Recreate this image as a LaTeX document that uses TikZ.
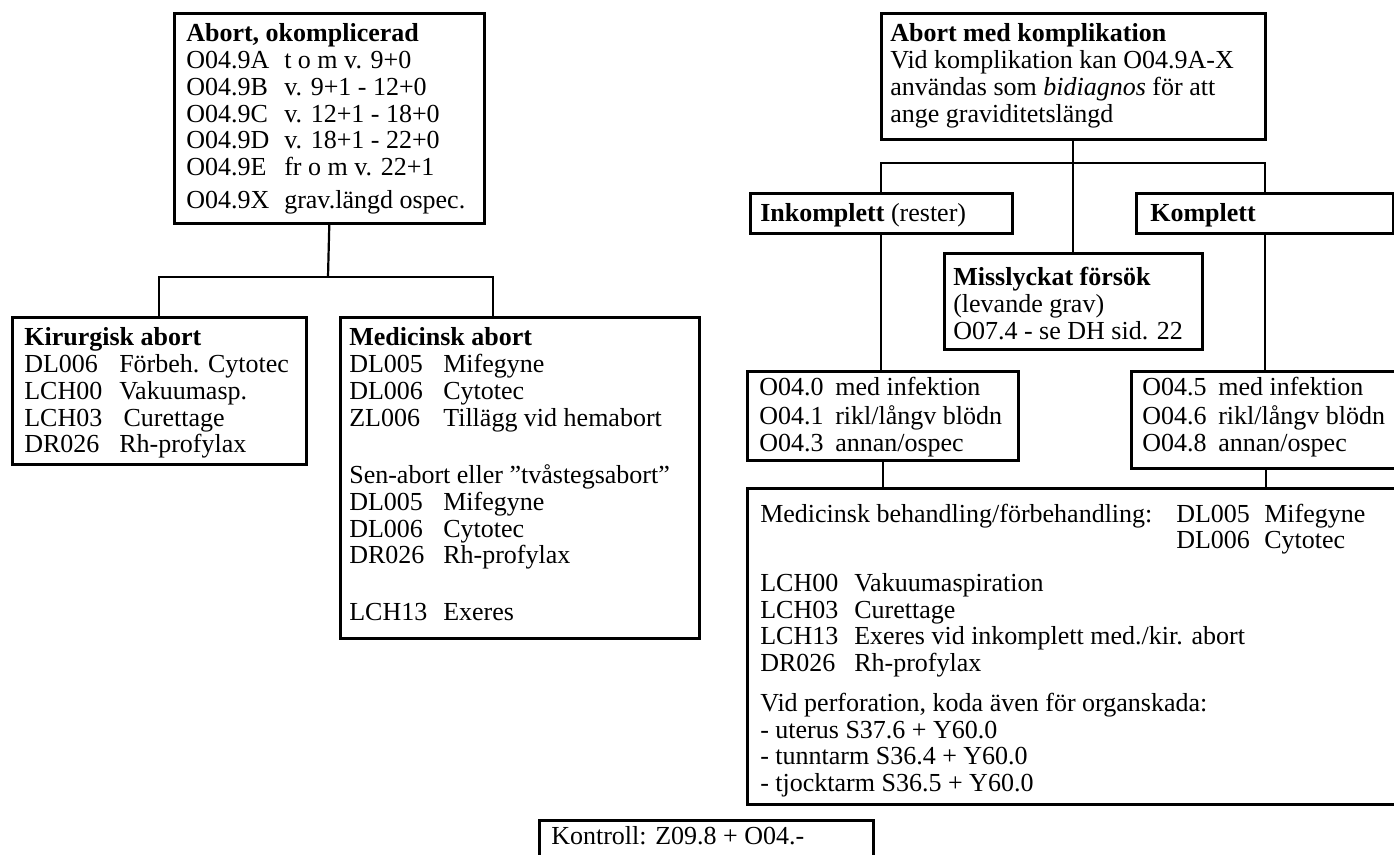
\documentclass[tikz,border=0pt]{standalone}
\usepackage{fontspec}
\setmainfont{Liberation Serif}

\newcommand{\kod}[2]{\makebox[#1][l]{#2}}
\newcommand{\boxbody}[3]{\begin{minipage}[t][#2][t]{#1}\raggedright #3\end{minipage}}

\begin{document}
\begin{tikzpicture}[x=0.5pt, y=-0.5pt,
  box/.style={draw, line width=1.3pt, anchor=north west, inner ysep=0pt, font=\fontsize{13}{13.35}\selectfont},
  link/.style={line width=1.1pt}]
\useasboundingbox (0,0) rectangle (1394,855);

\node[box, inner xsep=6pt] (okompl) at (173,12) {\boxbody{143pt}{105pt}{\vspace*{5pt}\strut\textbf{Abort, okomplicerad}\\
\kod{49pt}{O04.9A}t o m v. 9+0\\
\kod{49pt}{O04.9B}v. 9+1 - 12+0\\
\kod{49pt}{O04.9C}v. 12+1 - 18+0\\
\kod{49pt}{O04.9D}v. 18+1 - 22+0\\
\kod{49pt}{O04.9E}fr o m v. 22+1\\[3pt]
\kod{49pt}{O04.9X}grav.längd ospec.}};

\node[box, inner xsep=6pt] (kir) at (11,316) {\boxbody{135pt}{73.5pt}{\vspace*{5pt}\strut\textbf{Kirurgisk abort}\\
\kod{47.5pt}{DL006}Förbeh. Cytotec\\
\kod{47.5pt}{LCH00}Vakuumasp.\\
\kod{47.5pt}{LCH03}\,Curettage\\
\kod{47.5pt}{DR026}Rh-profylax}};

\node[box, inner xsep=4.5pt] (med) at (339,316) {\boxbody{170.5pt}{160.5pt}{\vspace*{5pt}\strut\textbf{Medicinsk abort}\\
\kod{47pt}{DL005}Mifegyne\\
\kod{47pt}{DL006}Cytotec\\
\kod{47pt}{ZL006}Tillägg vid hemabort\\[15.5pt]
Sen-abort eller ”tvåstegsabort”\\
\kod{47pt}{DL005}Mifegyne\\
\kod{47pt}{DL006}Cytotec\\
\kod{47pt}{DR026}Rh-profylax\\[15pt]
\kod{47pt}{LCH13}Exeres}};

\node[box, inner xsep=4.5pt] (amk) at (880,12) {\boxbody{183pt}{63pt}{\vspace*{5pt}\strut\textbf{Abort med komplikation}\\
Vid komplikation kan O04.9A-X\\
användas som \textit{bidiagnos} för att\\
ange graviditetslängd}};

\node[box, inner xsep=5pt] (inkompl) at (749,192) {\boxbody{121pt}{20pt}{\vspace*{4.7pt}\strut\textbf{Inkomplett} (rester)}};
\node[box, inner xsep=7pt] (kompl) at (1135,192) {\boxbody{114.5pt}{20pt}{\vspace*{4.7pt}\strut\textbf{Komplett}}};

\node[box, inner xsep=4.5pt] (missl) at (943,252) {\boxbody{120pt}{48pt}{\vspace*{7pt}\strut\textbf{Misslyckat försök}\\
(levande grav)\\
O07.4 - se DH sid. 22}};

\node[box, inner xsep=6pt] (inf1) at (746,370) {\boxbody{123.5pt}{44.5pt}{\vspace*{3pt}\strut\kod{38pt}{O04.0}med infektion\\
\kod{38pt}{O04.1}rikl/långv blödn\\
\kod{38pt}{O04.3}annan/ospec}};

\node[box, inner xsep=5.5pt] (inf2) at (1130,370) {\boxbody{124pt}{48.5pt}{\vspace*{3pt}\strut\kod{38pt}{O04.5}med infektion\\
\kod{38pt}{O04.6}rikl/långv blödn\\
\kod{38pt}{O04.8}annan/ospec}};

\node[box, inner xsep=6.5pt] (beh) at (746,487) {\boxbody{314pt}{158pt}{\vspace*{7.6pt}\strut\makebox[208pt][l]{Medicinsk behandling/förbehandling:}\kod{44pt}{DL005}Mifegyne\\
\hspace*{208pt}\kod{44pt}{DL006}Cytotec\\[8pt]
\kod{47pt}{LCH00}Vakuumaspiration\\
\kod{47pt}{LCH03}Curettage\\
\kod{47pt}{LCH13}Exeres vid inkomplett med./kir. abort\\
\kod{47pt}{DR026}Rh-profylax\\[6.5pt]
Vid perforation, koda även för organskada:\\
- uterus S37.6 + Y60.0\\
- tunntarm S36.4 + Y60.0\\
- tjocktarm S36.5 + Y60.0}};

\node[box, inner xsep=6pt] (kontroll) at (538,819) {\boxbody{155pt}{25.5pt}{\vspace*{3pt}\strut Kontroll: Z09.8 + O04.-}};

\coordinate (okjoin) at (328,277);
\coordinate (medjoin) at (493,316);
\coordinate (amkjoin) at (1072,163);

\draw[link] (okompl.south) -- (okjoin);
\draw[link] (kir.north) |- (okjoin) -| (medjoin);
\draw[link] (amk.south) -- (missl.north);
\draw[link] (inkompl.north) |- (amkjoin) -| (kompl.north);
\draw[link] (inkompl.south) -- (inkompl.south |- inf1.north);
\draw[link] (inf1.south) -- (inf1.south |- beh.north);
\draw[link] (kompl.south) -- (kompl.south |- inf2.north);
\draw[link] (inf2.south) -- (inf2.south |- beh.north);
\end{tikzpicture}
\end{document}
